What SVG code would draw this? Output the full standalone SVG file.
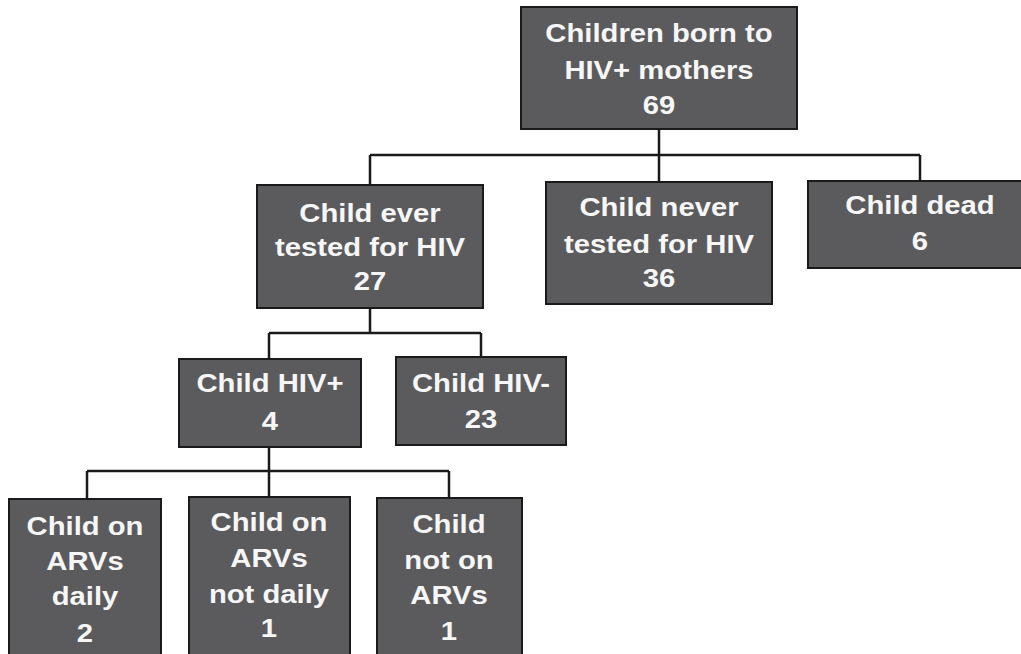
<svg xmlns="http://www.w3.org/2000/svg" width="1021" height="654" viewBox="0 0 1021 654">
<style>
.box{fill:#5b5b5d;stroke:#1a1a1a;stroke-width:2}
.lbl{font-family:"Liberation Sans",Arial,sans-serif;font-weight:bold;font-size:25px;fill:#f6f6f6;text-anchor:middle}
.con{fill:none;stroke:#1a1a1a;stroke-width:2.5}
</style>
<rect width="1021" height="654" fill="#ffffff"/>
<g id="connectors">
<path class="con" d="M659,129 V182 M370,155 H920 M370,155 V185 M920,155 V181"/>
<path class="con" d="M370,308 V333 M269,333 H481 M269,333 V359 M481,333 V357"/>
<path class="con" d="M269,447 V471 M87,471 H449 M87,471 V499 M269,471 V497 M449,471 V498"/>
</g>
<g id="root">
<rect class="box" x="521" y="7" width="276" height="122"/>
<text class="lbl" transform="translate(659,42) scale(1.17,1)">Children born to</text>
<text class="lbl" transform="translate(659,79) scale(1.17,1)">HIV+ mothers</text>
<text class="lbl" transform="translate(659,114) scale(1.17,1)">69</text>
</g>
<g id="ever-tested">
<rect class="box" x="257" y="185" width="226" height="123"/>
<text class="lbl" transform="translate(370,222) scale(1.17,1)">Child ever</text>
<text class="lbl" transform="translate(370,256) scale(1.17,1)">tested for HIV</text>
<text class="lbl" transform="translate(370,290) scale(1.17,1)">27</text>
</g>
<g id="never-tested">
<rect class="box" x="546" y="182" width="226" height="122"/>
<text class="lbl" transform="translate(659,216) scale(1.17,1)">Child never</text>
<text class="lbl" transform="translate(659,253) scale(1.17,1)">tested for HIV</text>
<text class="lbl" transform="translate(659,287) scale(1.17,1)">36</text>
</g>
<g id="dead">
<rect class="box" x="808" y="181" width="230" height="87"/>
<text class="lbl" transform="translate(920,214) scale(1.17,1)">Child dead</text>
<text class="lbl" transform="translate(920,250) scale(1.17,1)">6</text>
</g>
<g id="hiv-pos">
<rect class="box" x="179" y="359" width="182" height="88"/>
<text class="lbl" transform="translate(270,392) scale(1.17,1)">Child HIV+</text>
<text class="lbl" transform="translate(270,430) scale(1.17,1)">4</text>
</g>
<g id="hiv-neg">
<rect class="box" x="396" y="357" width="170" height="88"/>
<text class="lbl" transform="translate(481,392) scale(1.17,1)">Child HIV-</text>
<text class="lbl" transform="translate(481,428) scale(1.17,1)">23</text>
</g>
<g id="arv-daily">
<rect class="box" x="9" y="499" width="152" height="165"/>
<text class="lbl" transform="translate(85,535) scale(1.17,1)">Child on</text>
<text class="lbl" transform="translate(85,570) scale(1.17,1)">ARVs</text>
<text class="lbl" transform="translate(85,605) scale(1.17,1)">daily</text>
<text class="lbl" transform="translate(85,642) scale(1.17,1)">2</text>
</g>
<g id="arv-not-daily">
<rect class="box" x="189" y="497" width="161" height="167"/>
<text class="lbl" transform="translate(269,531) scale(1.17,1)">Child on</text>
<text class="lbl" transform="translate(269,567) scale(1.17,1)">ARVs</text>
<text class="lbl" transform="translate(269,603) scale(1.17,1)">not daily</text>
<text class="lbl" transform="translate(269,637) scale(1.17,1)">1</text>
</g>
<g id="no-arv">
<rect class="box" x="377" y="498" width="145" height="166"/>
<text class="lbl" transform="translate(449,533) scale(1.17,1)">Child</text>
<text class="lbl" transform="translate(449,569) scale(1.17,1)">not on</text>
<text class="lbl" transform="translate(449,604) scale(1.17,1)">ARVs</text>
<text class="lbl" transform="translate(449,640) scale(1.17,1)">1</text>
</g>
</svg>
